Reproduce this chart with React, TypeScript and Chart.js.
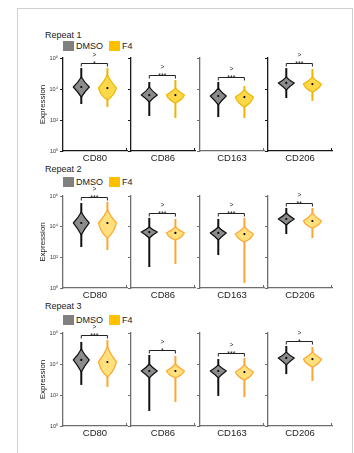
import React, { useEffect, useRef } from "react";
import { Chart, registerables } from "chart.js";

Chart.register(...registerables);

const FONT = "'Liberation Sans', Arial, Helvetica, sans-serif";

// ---------- data ----------
const repeats = ["Repeat 1", "Repeat 2", "Repeat 3"];
const markers = ["CD80", "CD86", "CD163", "CD206"];
const groups = ["DMSO", "F4"];
const tickValues = [1, 100, 10000, 1000000];
const tickLabels = ["10⁰", "10²", "10⁴", "10⁶"];

// violin statistics, log10(expression), [repeat][marker]
const dmsoMaxLog = [
  [5.35, 4.45, 4.45, 5.35],
  [5.54, 4.57, 4.5, 5.22],
  [5.42, 4.58, 4.32, 5.16],
];
const dmsoUpperLog = [
  [4.77, 4.13, 4.06, 4.77],
  [4.96, 3.98, 3.98, 4.89],
  [4.97, 4.0, 3.94, 4.77],
];
const dmsoMedianLog = [
  [4.13, 3.61, 3.55, 4.39],
  [4.24, 3.65, 3.59, 4.5],
  [4.26, 3.55, 3.55, 4.39],
];
const dmsoLowerLog = [
  [3.48, 3.16, 2.97, 3.94],
  [3.46, 3.26, 3.13, 4.11],
  [3.48, 3.1, 3.1, 3.94],
];
const dmsoMinLog = [
  [3.03, 2.26, 2.19, 3.42],
  [2.67, 1.37, 2.15, 3.52],
  [2.65, 0.97, 1.94, 3.35],
];

const f4MaxLog = [
  [5.35, 4.58, 4.19, 5.29],
  [5.61, 4.5, 4.57, 5.22],
  [5.55, 4.52, 4.39, 5.1],
];
const f4UpperLog = [
  [4.9, 4.06, 3.94, 4.77],
  [5.09, 3.98, 3.98, 4.89],
  [5.1, 4.0, 3.94, 4.77],
];
const f4MedianLog = [
  [4.06, 3.61, 3.48, 4.32],
  [4.24, 3.59, 3.52, 4.37],
  [4.13, 3.55, 3.48, 4.32],
];
const f4LowerLog = [
  [3.29, 3.1, 2.84, 3.81],
  [3.26, 3.13, 3.0, 3.91],
  [3.16, 3.1, 2.97, 3.81],
];
const f4MinLog = [
  [2.84, 2.13, 2.13, 3.23],
  [2.48, 1.57, 0.33, 3.26],
  [2.52, 1.55, 1.87, 2.9],
];

const significance = [
  ["*", "***", "***", "***"],
  ["***", "***", "***", "**"],
  ["***", "*", "***", "*"],
];

// ---------- layout ----------
const PANEL_X = [63, 131, 200, 268];
const PANEL_W = 64;
const ROW_TOP = [58, 196, 333];
const ROW_BOTTOM = [151, 288, 426];
const TITLE_Y = [35, 169, 306];
const LEGEND_Y = [41, 177, 315];
const PAD_TOP = 14;
const PAD_BOTTOM = 13;
const PAD_RIGHT = 3;

const DMSO_FILL = "#8b8b8b";
const DMSO_STROKE = "#111111";

function Panel({ r, p }: { r: number; p: number }) {
  const ref = useRef<HTMLCanvasElement | null>(null);
  const lw = p === 0 ? 25 : 6;
  const left = PANEL_X[p] - lw;
  const width = lw + PANEL_W + PAD_RIGHT;
  const top = ROW_TOP[r] - PAD_TOP;
  const height = PAD_TOP + (ROW_BOTTOM[r] - ROW_TOP[r]) + PAD_BOTTOM;

  useEffect(() => {
    const canvas = ref.current;
    if (!canvas) return;
    const axisColor = r === 0 && p !== 2 ? "#1a1a1a" : "#6e6e6e";
    const f4Fill = r === 0 ? "#ffd84a" : "#ffe07c";
    const f4Stroke = r === 0 ? "#f0b400" : "#ffa630";

    const violins = [
      {
        x: 1,
        max: dmsoMaxLog[r][p],
        upper: dmsoUpperLog[r][p],
        median: dmsoMedianLog[r][p],
        lower: dmsoLowerLog[r][p],
        min: dmsoMinLog[r][p],
        fill: DMSO_FILL,
        stroke: DMSO_STROKE,
        half: 8,
        round: false,
      },
      {
        x: 2,
        max: f4MaxLog[r][p],
        upper: f4UpperLog[r][p],
        median: f4MedianLog[r][p],
        lower: f4LowerLog[r][p],
        min: f4MinLog[r][p],
        fill: f4Fill,
        stroke: f4Stroke,
        half: 9,
        round: true,
      },
    ];

    const violinPlugin = {
      id: "violins",
      beforeDatasetsDraw(chart: any) {
        const { ctx } = chart;
        const xs = chart.scales.x;
        const ys = chart.scales.y;
        ctx.save();
        for (const v of violins) {
          const cx = xs.getPixelForValue(v.x);
          const yMax = ys.getPixelForValue(Math.pow(10, v.max));
          const yMin = ys.getPixelForValue(Math.pow(10, v.min));
          const yU = ys.getPixelForValue(Math.pow(10, v.upper));
          const yM = ys.getPixelForValue(Math.pow(10, v.median));
          const yL = ys.getPixelForValue(Math.pow(10, v.lower));
          // tails
          ctx.strokeStyle = v.stroke;
          ctx.lineWidth = 2;
          ctx.beginPath();
          ctx.moveTo(cx, yMax);
          ctx.lineTo(cx, yMin);
          ctx.stroke();
          // body
          const W = v.half;
          ctx.beginPath();
          ctx.moveTo(cx, yU);
          ctx.quadraticCurveTo(cx + W * 0.35, (yU + yM) / 2, cx + W, yM);
          if (v.round) {
            ctx.quadraticCurveTo(cx + W * 0.75, yM + (yL - yM) * 0.65, cx, yL);
            ctx.quadraticCurveTo(cx - W * 0.75, yM + (yL - yM) * 0.65, cx - W, yM);
          } else {
            ctx.quadraticCurveTo(cx + W * 0.4, (yM + yL) / 2, cx, yL);
            ctx.quadraticCurveTo(cx - W * 0.4, (yM + yL) / 2, cx - W, yM);
          }
          ctx.quadraticCurveTo(cx - W * 0.35, (yU + yM) / 2, cx, yU);
          ctx.closePath();
          ctx.fillStyle = v.fill;
          ctx.fill();
          ctx.lineWidth = 1.2;
          ctx.strokeStyle = v.stroke;
          ctx.lineJoin = "round";
          ctx.stroke();
        }
        ctx.restore();
      },
      afterDatasetsDraw(chart: any) {
        const { ctx, chartArea } = chart;
        const xs = chart.scales.x;
        const ys = chart.scales.y;
        ctx.save();
        const x1 = xs.getPixelForValue(1);
        const x2 = xs.getPixelForValue(2);
        const yTop =
          Math.round(
            Math.min(
              ys.getPixelForValue(Math.pow(10, violins[0].max)),
              ys.getPixelForValue(Math.pow(10, violins[1].max))
            ) - 5
          ) + 0.5;
        ctx.strokeStyle = "#222";
        ctx.lineWidth = 1;
        ctx.beginPath();
        ctx.moveTo(x1, yTop + 3);
        ctx.lineTo(x1, yTop);
        ctx.lineTo(x2, yTop);
        ctx.lineTo(x2, yTop + 3);
        ctx.stroke();
        const mid = (x1 + x2) / 2;
        ctx.fillStyle = "#222";
        ctx.textAlign = "center";
        ctx.textBaseline = "alphabetic";
        ctx.font = `7px ${FONT}`;
        ctx.fillText(significance[r][p], mid, yTop + 2.5);
        ctx.font = `6.5px ${FONT}`;
        ctx.fillText(">", mid, yTop - 6.5);
        // small end tick on x axis
        ctx.strokeStyle = axisColor;
        ctx.lineWidth = 1;
        ctx.beginPath();
        ctx.moveTo(chartArea.right - 0.5, chartArea.bottom);
        ctx.lineTo(chartArea.right - 0.5, chartArea.bottom - 3);
        ctx.stroke();
        ctx.restore();
      },
    };

    const medians = [violins[0].median, violins[1].median];

    const chart = new Chart(canvas, {
      type: "scatter",
      data: {
        datasets: groups.map((g, i) => ({
          label: g,
          data: [{ x: i + 1, y: Math.pow(10, medians[i]) }],
          pointRadius: 1.1,
          pointHoverRadius: 1.1,
          backgroundColor: "#000",
          borderWidth: 0,
        })),
      },
      options: {
        responsive: false,
        animation: false,
        devicePixelRatio: 1,
        events: [],
        layout: { padding: { top: PAD_TOP, left: 0, right: PAD_RIGHT, bottom: 0 } },
        plugins: { legend: { display: false }, tooltip: { enabled: false } },
        scales: {
          x: {
            type: "linear",
            position: "bottom",
            min: 0.3,
            max: 2.75,
            ticks: { display: false },
            grid: { display: false },
            border: { display: true, color: axisColor, width: 1.3 },
            title: {
              display: true,
              text: markers[p],
              font: { family: FONT, size: 9.5 },
              color: "#222",
              padding: 0,
            },
            afterFit: (s: any) => {
              s.height = PAD_BOTTOM;
            },
          },
          y: {
            type: "logarithmic",
            position: "left",
            min: 1,
            max: 1000000,
            afterBuildTicks: (s: any) => {
              s.ticks = tickValues.map((v) => ({ value: v }));
            },
            ticks: {
              display: p === 0,
              callback: (v: any) => {
                const i = tickValues.indexOf(Number(v));
                return i >= 0 ? tickLabels[i] : "";
              },
              font: { family: FONT, size: 5.5 },
              color: "#333",
              padding: 2,
            },
            grid: {
              display: true,
              drawOnChartArea: false,
              drawTicks: true,
              tickLength: 3,
              color: axisColor,
              lineWidth: 1,
            },
            border: { display: true, color: axisColor, width: 1.3 },
            title: {
              display: p === 0,
              text: "Expression",
              font: { family: FONT, size: 8 },
              color: "#222",
              padding: 0,
            },
            afterFit: (s: any) => {
              s.width = lw;
            },
          },
        },
      } as any,
      plugins: [violinPlugin],
    });
    return () => chart.destroy();
  }, [r, p, lw]);

  return (
    <canvas
      ref={ref}
      width={width}
      height={height}
      style={{ position: "absolute", left, top, width, height }}
    />
  );
}

function Legend({ r }: { r: number }) {
  const y = LEGEND_Y[r];
  const textStyle: React.CSSProperties = {
    position: "absolute",
    fontFamily: FONT,
    fontSize: 9,
    lineHeight: "11px",
    color: "#222",
    top: y + 5 - 5.5,
    whiteSpace: "nowrap",
  };
  return (
    <>
      <div
        style={{
          position: "absolute",
          left: 45,
          top: TITLE_Y[r] - 5.5,
          fontFamily: FONT,
          fontSize: 9,
          lineHeight: "11px",
          color: "#222",
          whiteSpace: "nowrap",
        }}
      >
        {repeats[r]}
      </div>
      <div style={{ position: "absolute", left: 63, top: y, width: 11, height: 10, background: "#808080" }} />
      <div style={{ ...textStyle, left: 76 }}>{groups[0]}</div>
      <div style={{ position: "absolute", left: 109, top: y, width: 11, height: 10, background: "#ffc000" }} />
      <div style={{ ...textStyle, left: 122 }}>{groups[1]}</div>
    </>
  );
}

export default function App() {
  return (
    <div
      style={{
        position: "absolute",
        left: 0,
        top: 0,
        width: 354,
        height: 453,
        overflow: "hidden",
        background: "#fff",
      }}
    >
      <div
        style={{
          position: "absolute",
          left: 17,
          top: 8,
          width: 334,
          height: 470,
          border: "1px solid #cfcfcf",
        }}
      />
      {repeats.map((_, r) => (
        <React.Fragment key={r}>
          <Legend r={r} />
          {markers.map((_m, p) => (
            <Panel key={`${r}-${p}`} r={r} p={p} />
          ))}
        </React.Fragment>
      ))}
    </div>
  );
}
